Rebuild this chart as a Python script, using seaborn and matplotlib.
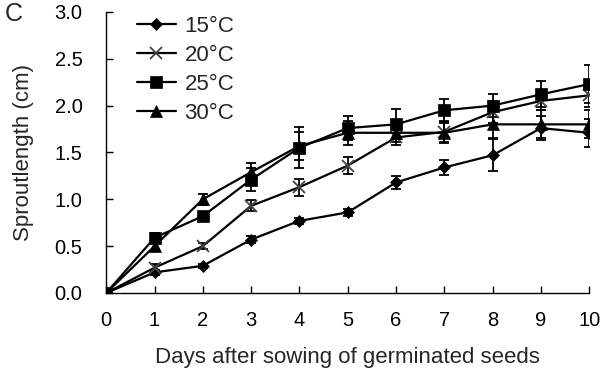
import matplotlib
matplotlib.use("Agg")
import matplotlib.pyplot as plt
import seaborn as sns
import pandas as pd
import numpy as np

days = [0, 1, 2, 3, 4, 5, 6, 7, 8, 9, 10]
labels = ["15°C", "20°C", "25°C", "30°C"]
t15 = [0.0, 0.22, 0.29, 0.57, 0.77, 0.86, 1.18, 1.34, 1.47, 1.76, 1.71]
t20 = [0.0, 0.27, 0.50, 0.93, 1.13, 1.36, 1.66, 1.72, 1.93, 2.05, 2.11]
t25 = [0.0, 0.59, 0.82, 1.21, 1.55, 1.76, 1.80, 1.95, 2.00, 2.12, 2.23]
t30 = [0.0, 0.50, 1.00, 1.29, 1.57, 1.71, 1.71, 1.71, 1.80, 1.80, 1.80]
e15 = [0.0, 0.03, 0.02, 0.04, 0.03, 0.04, 0.07, 0.08, 0.17, 0.13, 0.15]
e20 = [0.0, 0.04, 0.03, 0.06, 0.09, 0.09, 0.08, 0.12, 0.12, 0.10, 0.13]
e25 = [0.0, 0.05, 0.04, 0.12, 0.22, 0.13, 0.16, 0.12, 0.12, 0.14, 0.20]
e30 = [0.0, 0.04, 0.06, 0.10, 0.15, 0.13, 0.10, 0.10, 0.15, 0.15, 0.15]

series = [t15, t20, t25, t30]
errs = [e15, e20, e25, e30]

rows = []
for lab, vals, er in zip(labels, series, errs):
    for d, v, e in zip(days, vals, er):
        rows.append({"day": d, "len": v, "err": e, "temp": lab})
df = pd.DataFrame(rows)

sns.set_theme(style="ticks")
plt.rcParams['font.family'] = ['Liberation Sans', 'DejaVu Sans']

fig = plt.figure(figsize=(6.0, 3.73), dpi=100)
ax = fig.add_axes([0.177, 0.2145, 0.805, 0.7535])

markers = {"15°C": "D", "20°C": "x", "25°C": "s", "30°C": "^"}
sizes = {"15°C": 6.5, "20°C": 8, "25°C": 8.5, "30°C": 8}
mcol = {"15°C": "black", "20°C": "#444444", "25°C": "black", "30°C": "black"}

for lab, vals, er in zip(labels, series, errs):
    sub = df[df.temp == lab]
    ax.errorbar(sub["day"], sub["len"], yerr=sub["err"], fmt="none",
                ecolor="black", elinewidth=1.3, capsize=3.5, capthick=1.3, zorder=2)
    sns.lineplot(data=sub, x="day", y="len", ax=ax, color="black", lw=1.6,
                 marker=markers[lab], markersize=sizes[lab], markeredgecolor=mcol[lab],
                 markerfacecolor=mcol[lab], markeredgewidth=1.3 if lab == "20°C" else 0.5,
                 label=lab, zorder=3)

ax.set_xlim(0, 10)
ax.set_ylim(0, 3.0)
ax.set_xticks(days)
ax.set_yticks([0.0, 0.5, 1.0, 1.5, 2.0, 2.5, 3.0])
ax.set_yticklabels(["0.0", "0.5", "1.0", "1.5", "2.0", "2.5", "3.0"])
ax.tick_params(direction="in", length=5, width=1, labelsize=14.5, colors="black")
ax.tick_params(axis="y", pad=17)
ax.tick_params(axis="x", pad=13)
for s in ["top", "right"]:
    ax.spines[s].set_visible(False)
for s in ["left", "bottom"]:
    ax.spines[s].set_linewidth(1)
    ax.spines[s].set_color("black")
ax.set_xlabel("Days after sowing of germinated seeds", fontsize=16, labelpad=12)
ax.set_ylabel("Sproutlength (cm)", fontsize=16, labelpad=15)

leg = ax.legend(loc="upper left", bbox_to_anchor=(0.022, 1.058), frameon=False,
                fontsize=16, handlelength=1.75, labelspacing=0.36, handletextpad=0.4)
fig.text(0.008, 0.945, "C", fontsize=18)

fig.savefig("out.png", dpi=100)
